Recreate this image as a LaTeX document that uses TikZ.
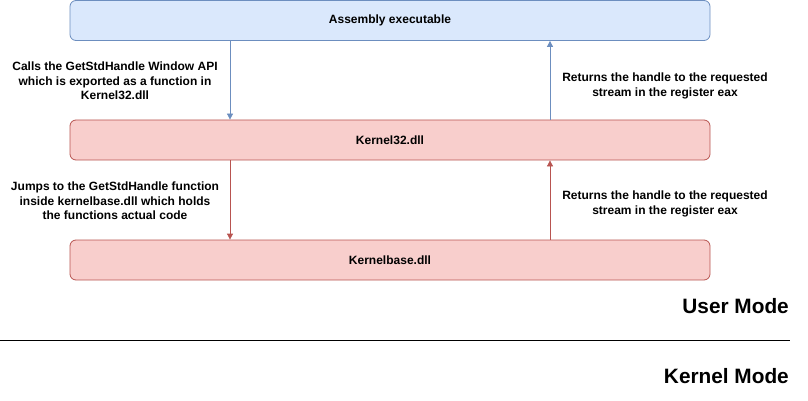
\documentclass[tikz,border=0pt]{standalone}
\usepackage{fontspec}
\setmainfont{Liberation Sans}
\usetikzlibrary{arrows.meta}
\definecolor{bluefill}{HTML}{DAE8FC}
\definecolor{bluedraw}{HTML}{6C8EBF}
\definecolor{redfill}{HTML}{F8CECC}
\definecolor{reddraw}{HTML}{B85450}
\begin{document}
\begin{tikzpicture}[x=1pt,y=-1pt,
  bluebox/.style={draw=bluedraw,fill=bluefill,rounded corners=6pt,line width=0.8pt,minimum width=640pt,minimum height=40pt,inner sep=0pt,font=\fontsize{12}{14.5}\selectfont\bfseries},
  redbox/.style={bluebox,draw=reddraw,fill=redfill},
  lbl/.style={align=center,font=\fontsize{12}{14.5}\selectfont\bfseries,inner sep=0pt},
  blueline/.style={draw=bluedraw,line width=0.8pt,-{Triangle[width=6pt,length=6pt]}},
  redline/.style={draw=reddraw,line width=0.8pt,-{Triangle[width=6pt,length=6pt]}},
  modelbl/.style={font=\fontsize{20.8}{24}\selectfont\bfseries,inner sep=0pt,anchor=east}]
\useasboundingbox (0,0) rectangle (808,401);
\node[bluebox] (asm) at (390,20.5) {Assembly executable};
\node[redbox] (k32) at (390,140) {Kernel32.dll};
\node[redbox] (kb) at (390,260) {Kernelbase.dll};
\draw[blueline] (asm.south -| 230,0) -- (k32.north -| 230,0);
\draw[blueline] (k32.north -| 550,0) -- (asm.south -| 550,0);
\draw[redline] (k32.south -| 230,0) -- (kb.north -| 230,0);
\draw[redline] (kb.north -| 550,0) -- (k32.south -| 550,0);
\node[lbl] (l1) at (115,81) {Calls the GetStdHandle Window API\\which is exported as a function in\\Kernel32.dll};
\node[lbl] (l2) at (665,86) {Returns the handle to the requested\\stream in the register eax};
\node[lbl] (l3) at (115,201) {Jumps to the GetStdHandle function\\inside kernelbase.dll which holds\\the functions actual code};
\node[lbl] (l4) at (665,204) {Returns the handle to the requested\\stream in the register eax};
\node[modelbl] (um) at (789,306) {User Mode};
\node[modelbl] (km) at (789,376) {Kernel Mode};
\coordinate (sepL) at (0,340);
\coordinate (sepR) at (790,340);
\draw[line width=0.8pt] (sepL) -- (sepR);
\end{tikzpicture}
\end{document}
